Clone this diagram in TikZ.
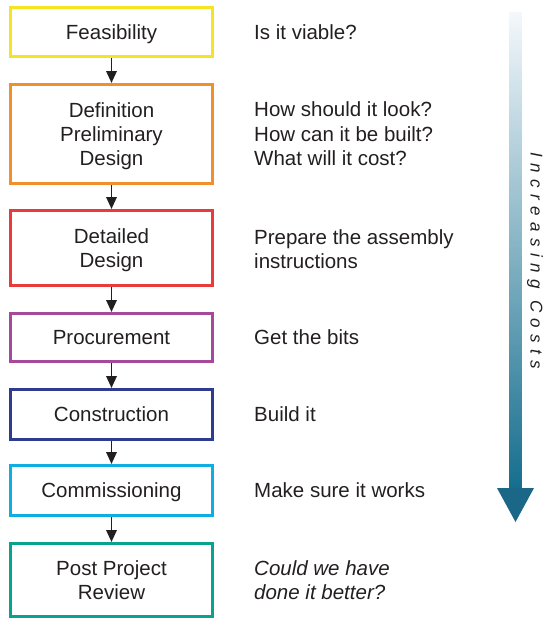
\documentclass[tikz,border=0pt]{standalone}
\usepackage{fontspec}
\setmainfont{Liberation Sans}
\newfontfamily\spacedfont[LetterSpace=38]{Liberation Sans}
\usetikzlibrary{arrows.meta}
\definecolor{cYellow}{HTML}{F5E423}
\definecolor{cOrange}{HTML}{F0902C}
\definecolor{cRed}{HTML}{E83C3A}
\definecolor{cPurple}{HTML}{A4499C}
\definecolor{cNavy}{HTML}{2E3B8E}
\definecolor{cCyan}{HTML}{0EAEE2}
\definecolor{cTeal}{HTML}{08A38C}
\definecolor{txt}{HTML}{231F20}
\definecolor{arTop}{HTML}{F4F8FB}
\definecolor{arMid}{HTML}{6EA4C3}
\definecolor{arBot}{HTML}{156E8E}
\definecolor{arHead}{HTML}{1B6787}
\tikzset{
  stage/.style={draw=#1, line width=3pt, minimum width=202pt, inner sep=0pt,
    align=center, text=txt, text depth=0pt, font=\fontsize{20.5}{24}\selectfont},
  note/.style={anchor=west, align=left, text=txt, inner sep=0pt,
    font=\fontsize{20.5}{24.5}\selectfont},
  flow/.style={-{Triangle[length=12pt,width=10.5pt]}, line width=1.9pt, draw=txt}
}
\begin{document}
\begin{tikzpicture}[x=1pt,y=-1pt]
\useasboundingbox (0,0) rectangle (544,619);
% stages
\node[stage=cYellow, minimum height=49pt] (f) at (111.5,32) {Feasibility};
\node[stage=cOrange, minimum height=99pt] (d) at (111.5,134) {Definition\\Preliminary\\Design};
\node[stage=cRed, minimum height=75pt] (dd) at (111.5,248) {Detailed\\Design};
\node[stage=cPurple, minimum height=48pt] (p) at (111.5,337.5) {Procurement};
\node[stage=cNavy, minimum height=50pt] (c) at (111.5,414.5) {Construction};
\node[stage=cCyan, minimum height=50pt] (cm) at (111.5,490.5) {Commissioning};
\node[stage=cTeal, minimum height=73pt] (pr) at (111.5,580) {Post Project\\Review};
% connectors
\draw[flow] (f.south) -- (d.north);
\draw[flow] (d.south) -- (dd.north);
\draw[flow] (dd.south) -- (p.north);
\draw[flow] (p.south) -- (c.north);
\draw[flow] (c.south) -- (cm.north);
\draw[flow] (cm.south) -- (pr.north);
% notes
\node[note] (nf) at (254,32.5) {Is it viable?};
\node[note] (nd) at (254,134) {How should it look?\\How can it be built?\\What will it cost?};
\node[note] (ndd) at (254,249) {Prepare the assembly\\instructions};
\node[note] (np) at (254,337.5) {Get the bits};
\node[note] (nc) at (254,414.5) {Build it};
\node[note] (ncm) at (254,490.5) {Make sure it works};
\node[note] (npr) at (254,580) {\itshape Could we have\\\itshape done it better?};
% cost arrow
\shade[top color=arTop, middle color=arMid, bottom color=arBot] (509.5,12) rectangle (521.5,489);
\fill[arHead] (497,488) -- (534,488) -- (515.5,522) -- cycle;
\node[rotate=-90, text=txt, inner sep=0pt, font=\spacedfont\itshape\fontsize{17}{17}\selectfont] (cost) at (535,261) {Increasing Costs};
\end{tikzpicture}
\end{document}
